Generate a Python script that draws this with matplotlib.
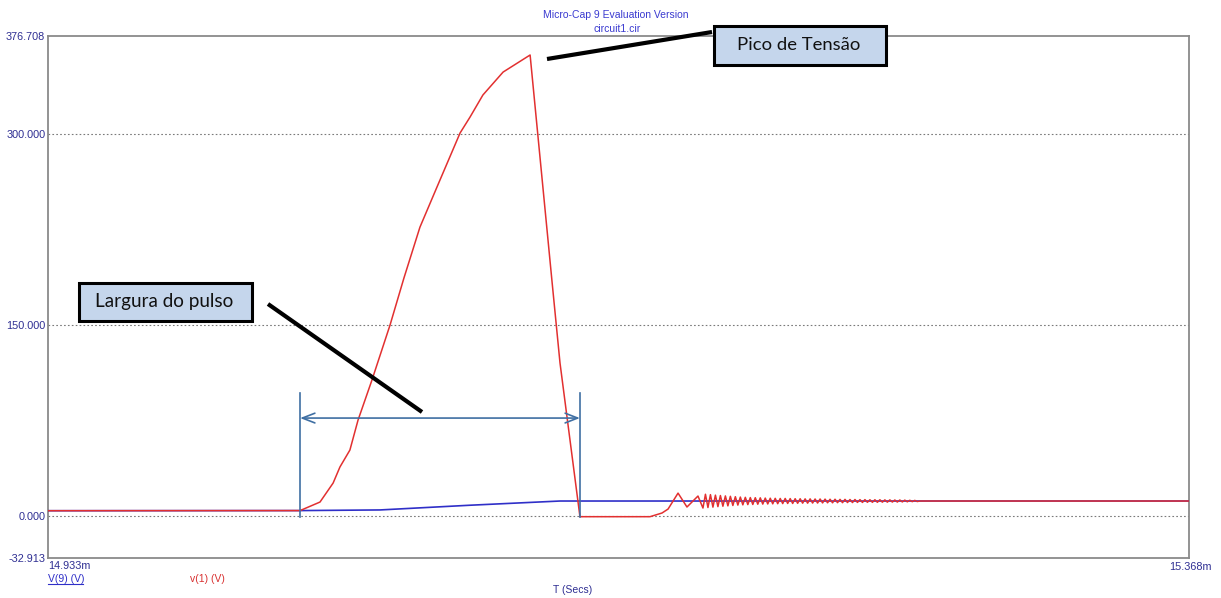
import numpy as np
import matplotlib
matplotlib.use("Agg")
import matplotlib.pyplot as plt
from matplotlib.lines import Line2D
from matplotlib.patches import Rectangle

# ---- data (time in ms, voltage in V) ----
t_min, t_max = 14.933, 15.368
v_min, v_max = -32.913, 376.708
grid_levels = [0.0, 150.0, 300.0]
ytick_vals = [-32.913, 0.0, 150.0, 300.0, 376.708]
ytick_labels = ["-32.913", "0.000", "150.000", "300.000", "376.708"]

# v(1): pulse, collapse and ringing
v1_t = [14.9330, 15.0291, 15.0367, 15.0417, 15.0443, 15.0481, 15.0512, 15.0565,
        15.0634, 15.0687, 15.0748, 15.0813, 15.0901, 15.0939, 15.0988, 15.1065,
        15.1168, 15.1251, 15.1282, 15.1358, 15.1625, 15.1671, 15.1694, 15.1732,
        15.1766, 15.1808]
v1_v = [4.2, 4.3, 11.0, 25.9, 38.5, 51.8, 75.3, 106.7,
        149.9, 186.8, 226.7, 258.2, 300.6, 313.1, 330.4, 348.4,
        361.8, 185.2, 120.1, -0.5, -0.5, 2.4, 5.5, 18.0,
        7.1, 15.7]

ring_t = [15.18270, 15.18365, 15.18460, 15.18555, 15.18650, 15.18745, 15.18840, 15.18935, 15.19030, 15.19125,
          15.19220, 15.19315, 15.19410, 15.19505, 15.19600, 15.19695, 15.19790, 15.19885, 15.19980, 15.20075,
          15.20170, 15.20265, 15.20360, 15.20455, 15.20550, 15.20645, 15.20740, 15.20835, 15.20930, 15.21025,
          15.21120, 15.21215, 15.21310, 15.21405, 15.21500, 15.21595, 15.21690, 15.21785, 15.21880, 15.21975,
          15.22070, 15.22165, 15.22260, 15.22355, 15.22450, 15.22545, 15.22640, 15.22735, 15.22830, 15.22925,
          15.23020, 15.23115, 15.23210, 15.23305, 15.23400, 15.23495, 15.23590, 15.23685, 15.23780, 15.23875,
          15.23970, 15.24065, 15.24160, 15.24255, 15.24350, 15.24445, 15.24540, 15.24635, 15.24730, 15.24825,
          15.24920, 15.25015, 15.25110, 15.25205, 15.25300, 15.25395, 15.25490, 15.25585, 15.25680, 15.25775,
          15.25870, 15.25965, 15.26060, 15.26155, 15.26250, 15.26345, 15.26440]
ring_v = [6.3, 17.1, 6.7, 16.8, 7.0, 16.4, 7.4, 16.1, 7.7, 15.8,
          8.0, 15.5, 8.3, 15.2, 8.6, 14.9, 8.8, 14.7, 9.0, 14.5,
          9.1, 14.4, 9.3, 14.3, 9.4, 14.1, 9.5, 14.0, 9.6, 13.9,
          9.7, 13.8, 9.8, 13.8, 9.9, 13.7, 9.9, 13.6, 10.0, 13.6,
          10.1, 13.5, 10.1, 13.5, 10.2, 13.4, 10.2, 13.4, 10.3, 13.3,
          10.4, 13.2, 10.4, 13.2, 10.5, 13.1, 10.5, 13.1, 10.6, 13.0,
          10.6, 13.0, 10.7, 12.9, 10.7, 12.9, 10.8, 12.8, 10.8, 12.8,
          10.8, 12.8, 10.9, 12.7, 10.9, 12.7, 11.0, 12.6, 11.0, 12.6,
          11.1, 12.5, 11.2, 12.4, 11.3, 12.3, 11.4]
tail_t = [15.2654, 15.3680]
tail_v = [11.8, 11.8]

# V(9): slow rise to the settled level
v9_t = [14.9330, 15.0291, 15.0596, 15.0939, 15.1282, 15.3680]
v9_v = [4.2, 4.3, 4.8, 8.5, 11.8, 11.8]

# pulse-width markers
pw_start, pw_end = 15.0291, 15.1358
marker_top, marker_bottom = 96.5, -1.0
arrow_level = 76.9

W, H = 1221, 598
fig = plt.figure(figsize=(W / 100, H / 100), dpi=100)
fig.patch.set_facecolor("white")


def fx(px):
    return px / W


def fy(py):
    return 1 - py / H


ax = fig.add_axes([fx(48), fy(558), (1189 - 48) / W, (558 - 36) / H])
ax.set_xlim(t_min, t_max)
ax.set_ylim(v_min, v_max)

frame_col = "#8a8a8a"
for s in ax.spines.values():
    s.set_color(frame_col)
    s.set_linewidth(1.3)

label_col = "#2e2e92"
ax.set_yticks(ytick_vals)
ax.set_yticklabels(ytick_labels, fontsize=7.8, color=label_col, family="Liberation Sans")
ax.tick_params(axis="y", length=0, pad=2)
ax.set_xticks([])

for g in grid_levels:
    ax.axhline(g, color="#7a7a7a", lw=0.8, ls=(0, (1.5, 2)), zorder=1)

# traces
ax.plot(v9_t, v9_v, color="#2f2fc8", lw=1.2, zorder=3)
red_t = v1_t + ring_t + tail_t
red_v = v1_v + ring_v + tail_v
ax.plot(red_t, red_v, color="#e23030", lw=1.1, zorder=4)

# pulse-width markers
mk_col = "#3f6fa3"
ax.plot([pw_start, pw_start], [marker_bottom, marker_top], color=mk_col, lw=1.2, zorder=5)
ax.plot([pw_end, pw_end], [marker_bottom, marker_top], color=mk_col, lw=1.2, zorder=5)
ax.annotate("", xy=(pw_end, arrow_level), xytext=(pw_start, arrow_level),
            arrowprops=dict(arrowstyle="<->,head_length=0.9,head_width=0.35",
                            color=mk_col, lw=1.2, shrinkA=0, shrinkB=0), zorder=5)

# axis texts
fig.text(fx(48), fy(566), "14.933m", ha="left", va="center", fontsize=7.8,
         color=label_col, family="Liberation Sans")
fig.text(fx(1212), fy(567), "15.368m", ha="right", va="center", fontsize=7.8,
         color=label_col, family="Liberation Sans")
fig.text(fx(48), fy(579), "V(9) (V)", ha="left", va="center", fontsize=7.5,
         color="#2f2fc8", family="Liberation Sans")
fig.add_artist(Line2D([fx(48), fx(83)], [fy(584), fy(584)], color="#2f2fc8", lw=0.8))
fig.text(fx(190), fy(579), "v(1) (V)", ha="left", va="center", fontsize=7.5,
         color="#d83030", family="Liberation Sans")
fig.text(fx(573), fy(590), "T (Secs)", ha="center", va="center", fontsize=7.5,
         color=label_col, family="Liberation Sans")
fig.text(fx(616), fy(15), "Micro-Cap 9 Evaluation Version", ha="center", va="center",
         fontsize=7.5, color="#3a3ad0", family="Liberation Sans")
fig.text(fx(617), fy(29), "circuit1.cir", ha="center", va="center",
         fontsize=7.5, color="#3a3ad0", family="Liberation Sans")

# callouts
box_fill = "#c5d6ec"
fig.add_artist(Line2D([fx(268), fx(422)], [fy(304), fy(412)], color="black", lw=3.0,
                      solid_capstyle="butt", zorder=6))
fig.add_artist(Line2D([fx(547), fx(712)], [fy(59), fy(32)], color="black", lw=3.0,
                      solid_capstyle="butt", zorder=6))

fig.add_artist(Rectangle((fx(79), fy(321)), (252 - 79) / W, (321 - 283) / H,
                         facecolor=box_fill, edgecolor="black", lw=2.2, zorder=7))
fig.text(fx(164), fy(302), "Largura do pulso", ha="center", va="center",
         fontsize=13.6, family="Lato", color="#111111", zorder=8)

fig.add_artist(Rectangle((fx(714), fy(65)), (886 - 714) / W, (65 - 26) / H,
                         facecolor=box_fill, edgecolor="black", lw=2.2, zorder=7))
fig.text(fx(799), fy(45), "Pico de Tensão", ha="center", va="center",
         fontsize=13.3, family="Lato", color="#111111", zorder=8)

fig.savefig("out.png", dpi=100, facecolor="white")
